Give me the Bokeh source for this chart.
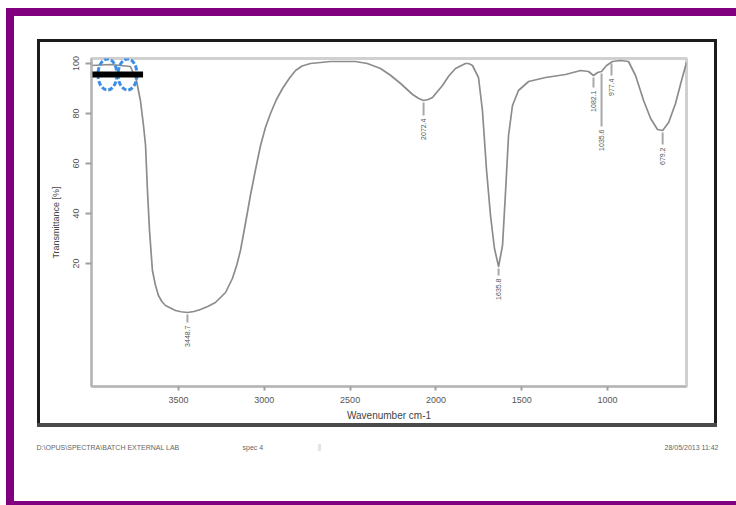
import math
from bokeh.plotting import figure
from bokeh.layouts import column, row
from bokeh.models import Range1d, FixedTicker, Spacer
from bokeh.core.properties import value
from bokeh.embed import file_html
from bokeh.resources import INLINE

# ---------------- data ----------------
wavenumber = [4007, 3897, 3780, 3745, 3722, 3704, 3692, 3681, 3669, 3652,
              3635, 3617, 3597, 3576, 3518, 3485, 3448, 3410, 3372, 3330,
              3285, 3226, 3186, 3160, 3139, 3110, 3081, 3050, 3022, 2993,
              2964, 2930, 2894, 2855, 2818, 2780, 2731, 2614, 2469, 2400,
              2323, 2265, 2206, 2136, 2100, 2072, 2045, 2020, 1962, 1925,
              1886, 1828, 1810, 1787, 1752, 1729, 1705, 1682, 1659, 1635,
              1612, 1594, 1577, 1554, 1519, 1460, 1361, 1245, 1157, 1111,
              1082, 1058, 1035, 1006, 971, 924, 878, 837, 790, 749,
              709, 679, 644, 604, 569, 540]
transmittance = [99.2, 99.6, 98.8, 93.2, 85.2, 75.2, 67.2, 49.2, 33.2, 17.2,
                 11.5, 7.2, 4.8, 3.2, 1.2, 0.7, 0.4, 0.8, 1.6, 2.8,
                 4.4, 8.4, 14, 19.5, 25.2, 36, 47.2, 58, 67.2, 74.5,
                 80, 85.5, 90, 94, 97.2, 99, 100, 100.8, 100.8, 100,
                 98, 95.3, 92, 87.6, 86, 85.2, 85.6, 86.4, 91.2, 95,
                 98, 100, 100, 99.2, 94.4, 81.2, 57.2, 39.2, 26, 18.8,
                 27.2, 49.2, 71.2, 83.2, 89.2, 92.8, 94.4, 95.6, 97.2, 96.8,
                 95.2, 96.4, 96.8, 99.2, 100.8, 101.2, 100.8, 95.2, 85.2, 78,
                 73.6, 73.2, 76.4, 84, 93.2, 100.4]

peak_wn = [3448, 2072, 1635, 1082, 1035, 977, 679]
peak_T = [0.4, 85.2, 18.8, 95.2, 96.8, 100.8, 73.2]
peak_labels = ["3448.7", "2072.4", "1635.8", "1082.1", "1035.6", "977.4", "679.2"]

x_ticks = [3500, 3000, 2500, 2000, 1500, 1000]
y_ticks = [100, 80, 60, 40, 20]

marker_wn = [3914, 3797]
marker_T = [95.6, 95.6]
marker_bar_wn = [3861]
marker_bar_T = [95.6]

footer_texts = ["D:\\OPUS\\SPECTRA\\BATCH EXTERNAL LAB", "spec 4", "28/05/2013 11:42"]
x_title = "Wavenumber cm-1"
y_title = "Transmittance [%]"

# ---------------- layout constants ----------------
X_RANGE = (4007, 540)
Y_RANGE = (-29.2, 102)
FRAME_W, FRAME_H = 595, 328
PX_PER_T = FRAME_H / (Y_RANGE[1] - Y_RANGE[0])
label_drop = [13, 18, 12, 15, 58, 17, 17]   # px below minimum where label starts
FONT = "Liberation Sans"
PURPLE = "#800080"
BLACK = "#1c1c1c"


def block(w, h, color="white"):
    return Spacer(width=w, height=h, styles={"background-color": color})


# ---------------- main chart ----------------
p = figure(output_backend="svg", toolbar_location=None,
           frame_width=FRAME_W, frame_height=FRAME_H,
           min_border_left=51, min_border_right=28,
           min_border_top=16, min_border_bottom=37,
           x_range=Range1d(*X_RANGE), y_range=Range1d(*Y_RANGE),
           background_fill_color="white", border_fill_color="white")
p.grid.visible = False
p.outline_line_color = "#d0d0d0"
p.outline_line_width = 3

for ax in (p.xaxis[0], p.yaxis[0]):
    ax.axis_line_color = "#b4b4b4"
    ax.axis_line_width = 2
    ax.major_tick_line_color = "#a0a0a0"
    ax.major_tick_line_width = 2
    ax.minor_tick_line_color = None
    ax.major_tick_in = 0
    ax.major_label_text_font = FONT
    ax.major_label_text_color = "#555555"
    ax.axis_label_text_font = FONT
    ax.axis_label_text_font_style = "normal"
    ax.axis_label_text_color = "#444444"

p.xaxis.ticker = FixedTicker(ticks=x_ticks)
p.xaxis.major_tick_out = 4
p.xaxis.major_label_standoff = 6
p.xaxis.major_label_text_font_size = "9px"
p.xaxis.axis_label = x_title
p.xaxis.axis_label_text_font_size = "10px"
p.xaxis.axis_label_standoff = 4

p.yaxis.ticker = FixedTicker(ticks=y_ticks)
p.yaxis.major_tick_out = 6
p.yaxis.major_label_standoff = 7
p.yaxis.major_label_orientation = "vertical"
p.yaxis.major_label_text_font_size = "9px"
p.yaxis.axis_label = y_title
p.yaxis.axis_label_text_font_size = "9px"
p.yaxis.axis_label_standoff = 9

p.line(wavenumber, transmittance, line_color="#8c8c8c", line_width=1.7,
       line_join="round")

seg_y0 = [t - 2 / PX_PER_T for t in peak_T]
seg_y1 = [t - (d - 3) / PX_PER_T for t, d in zip(peak_T, label_drop)]
txt_y = [t - d / PX_PER_T for t, d in zip(peak_T, label_drop)]
p.segment(x0=peak_wn, y0=seg_y0, x1=peak_wn, y1=seg_y1,
          line_color="#a8a8a8", line_width=2)
p.text(x=peak_wn, y=txt_y, text=peak_labels, angle=math.pi / 2,
       text_align="right", text_baseline="middle",
       text_font=value(FONT), text_font_size="7px", text_color="#555555")

p.ellipse(x=marker_wn, y=marker_T, width=19, height=31,
          width_units="screen", height_units="screen",
          fill_color=None, line_color="#3d8fe6", line_width=3, line_dash="5 2")
p.rect(x=marker_bar_wn, y=marker_bar_T, width=53, height=6,
       width_units="screen", height_units="screen",
       fill_color="black", line_color=None)

# black frame around chart: x 37..717, y 39..427
framed = column(
    block(680, 3, BLACK),
    row(block(3, 381, BLACK), p, block(3, 381, BLACK)),
    block(680, 4, "#4a4a4a"),
)

# ---------------- footer ----------------
FOOT_W, FOOT_H = 722, 74
f = figure(output_backend="svg", toolbar_location=None,
           width=FOOT_W, height=FOOT_H, min_border=0,
           x_range=Range1d(0, FOOT_W), y_range=Range1d(0, FOOT_H),
           x_axis_location=None, y_axis_location=None,
           background_fill_color="white", border_fill_color="white")
f.grid.visible = False
f.outline_line_color = None
f.text(x=[22, 228, 704], y=[54, 54, 54], text=footer_texts,
       text_align=["left", "left", "right"], text_baseline="middle",
       text_font=value(FONT), text_font_size="7px", text_color="#666666")
f.rect(x=[305], y=[54], width=3, height=7, fill_color="#e4e4e4", line_color=None)

# ---------------- page ----------------
right_part = column(
    block(722, 8),
    block(722, 8, PURPLE),
    block(722, 23),
    row(block(23, 388), framed, block(19, 388)),
    f,
    block(722, 4, PURPLE),
)
left_part = column(block(6, 505))
purple_left = column(block(8, 8), block(8, 497, PURPLE))
page = row(left_part, purple_left, right_part)

open("out.html", "w").write(file_html(page, INLINE))
